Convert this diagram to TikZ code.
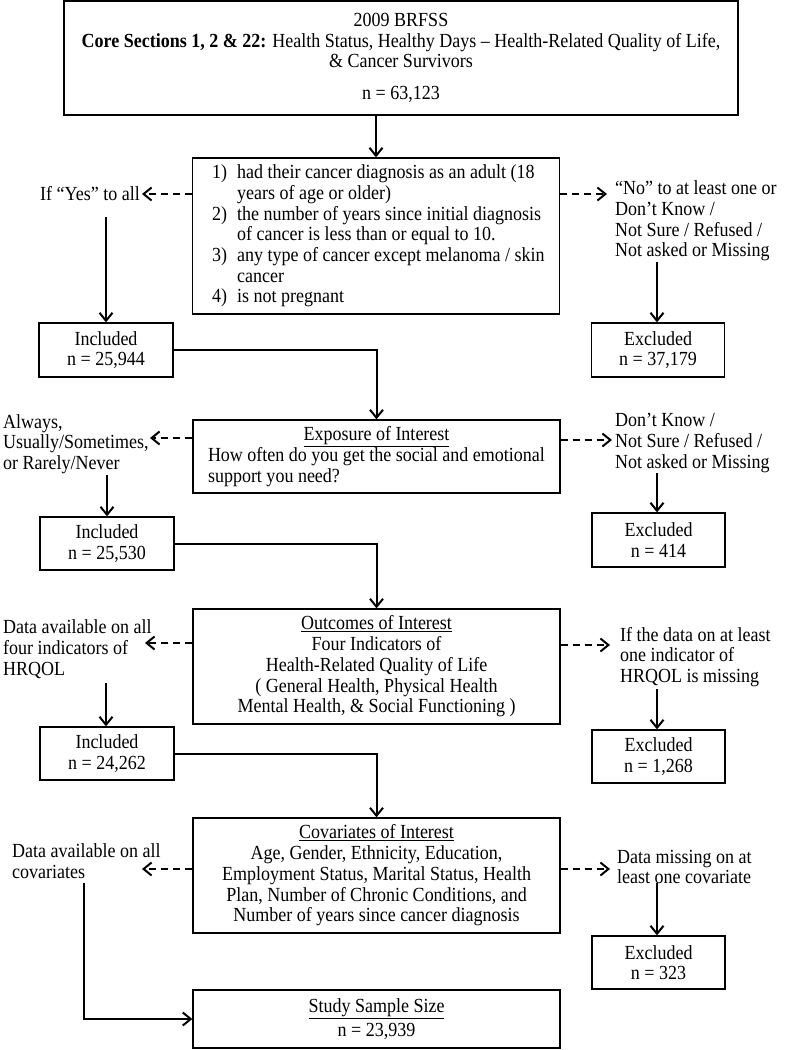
\documentclass[tikz,border=0pt]{standalone}
\usepackage{fontspec}
\setmainfont{Liberation Serif}[FakeStretch=0.9]
\usetikzlibrary{arrows.meta,calc}
\begin{document}
\begin{tikzpicture}[x=1pt,y=-1pt,
  every node/.style={font=\fontsize{20}{20.7}\selectfont},
  box/.style={draw, line width=1.3pt, align=center, inner sep=0pt},
  lbl/.style={align=left, inner sep=0pt},
  arr/.style={line width=2pt, -{Straight Barb[length=8pt,width=13pt,line width=2pt]}},
  darr/.style={arr, dash pattern=on 7pt off 5pt}]
\useasboundingbox (0,0) rectangle (785,1050);

% top box
\node[box, minimum width=674pt, minimum height=114pt] (top) at (401,58)
  {2009 BRFSS\\ \textbf{Core Sections 1, 2 \& 22:} Health Status, Healthy Days – Health-Related Quality of Life,\\ \& Cancer Survivors\\[11pt] n = 63,123};

% criteria
\node[box, minimum width=367pt, minimum height=156pt] (crit) at (376,236) {};
\node[lbl, anchor=west] (critt) at (212,236)
  {\makebox[25pt][l]{1)}had their cancer diagnosis as an adult (18\\
   \hspace*{25pt}years of age or older)\\
   \makebox[25pt][l]{2)}the number of years since initial diagnosis\\
   \hspace*{25pt}of cancer is less than or equal to 10.\\
   \makebox[25pt][l]{3)}any type of cancer except melanoma / skin\\
   \hspace*{25pt}cancer\\
   \makebox[25pt][l]{4)}is not pregnant};
\draw[arr] (crit.north |- top.south) -- (crit.north);

\node[lbl, anchor=east] (yes) at (140,194) {If “Yes” to all};
\coordinate (yesa) at (142,194);
\draw[darr] (crit.west |- yesa) -- (yesa);
\node[lbl, anchor=west] (no) at (615,221)
  {“No” to at least one or\\ Don’t Know /\\ Not Sure / Refused /\\ Not asked or Missing};
\coordinate (noa) at (607,194);
\draw[darr] (crit.east |- noa) -- (noa);

\node[box, minimum width=134pt, minimum height=54pt] (inc1) at (106,350) {Included\\ n = 25,944};
\node[box, minimum width=133pt, minimum height=54pt] (exc1) at (658,350) {Excluded\\ n = 37,179};
\coordinate (yess) at (106,217);
\draw[arr] (yess) -- (yess |- inc1.north);
\coordinate (nos) at (657,262);
\draw[arr] (nos) -- (nos |- exc1.north);

% exposure
\node[box, minimum width=367pt, minimum height=73pt, align=left] (expo) at (376.5,456.5)
  {\makebox[337pt]{\underline{Exposure of Interest}}\\ How often do you get the social and emotional\\ support you need?};
\draw[arr] (inc1.east) -| (expo.north);

\node[lbl, anchor=west] (alw) at (3,444) {Always,\\ Usually/Sometimes,\\ or Rarely/Never};
\coordinate (alwa) at (150,438);
\draw[darr] (expo.west |- alwa) -- (alwa);
\node[lbl, anchor=west] (dk) at (615,443) {Don’t Know /\\ Not Sure / Refused /\\ Not asked or Missing};
\coordinate (dka) at (612,440);
\draw[darr] (expo.east |- dka) -- (dka);

\node[box, minimum width=134pt, minimum height=53pt] (inc2) at (107,543.5) {Included\\ n = 25,530};
\node[box, minimum width=133pt, minimum height=54pt] (exc2) at (658.5,540) {Excluded\\ n = 414};
\coordinate (alws) at (107,475);
\draw[arr] (alws) -- (alws |- inc2.north);
\coordinate (dks) at (657,473);
\draw[arr] (dks) -- (dks |- exc2.north);

% outcomes
\node[box, minimum width=367pt, minimum height=115pt] (outc) at (376.5,666.5)
  {\underline{Outcomes of Interest}\\ Four Indicators of\\ Health-Related Quality of Life\\ ( General Health, Physical Health\\ Mental Health, \& Social Functioning )};
\draw[arr] (inc2.east) -| (outc.north);

\node[lbl, anchor=west] (dav) at (3,649) {Data available on all\\ four indicators of\\ HRQOL};
\coordinate (dava) at (145,643);
\draw[darr] (outc.west |- dava) -- (dava);
\node[lbl, anchor=west] (ifd) at (620,657) {If the data on at least\\ one indicator of\\ HRQOL is missing};
\coordinate (ifda) at (610,645);
\draw[darr] (outc.east |- ifda) -- (ifda);

\node[box, minimum width=134pt, minimum height=53pt] (inc3) at (107,753.5) {Included\\ n = 24,262};
\node[box, minimum width=133pt, minimum height=53pt] (exc3) at (658.5,756.5) {Excluded\\ n = 1,268};
\coordinate (davs) at (106,683);
\draw[arr] (davs) -- (davs |- inc3.north);
\coordinate (ifds) at (657,689);
\draw[arr] (ifds) -- (ifds |- exc3.north);

% covariates
\node[box, minimum width=367pt, minimum height=115pt] (cov) at (376.5,875.5)
  {\underline{Covariates of Interest}\\ Age, Gender, Ethnicity, Education,\\ Employment Status, Marital Status, Health\\ Plan, Number of Chronic Conditions, and\\ Number of years since cancer diagnosis};
\draw[arr] (inc3.east) -| (cov.north);

\node[lbl, anchor=west] (dac) at (12,861) {Data available on all\\ covariates};
\coordinate (daca) at (142,869);
\draw[darr] (cov.west |- daca) -- (daca);
\node[lbl, anchor=west] (dm) at (617,867) {Data missing on at\\ least one covariate};
\coordinate (dma) at (610,869);
\draw[darr] (cov.east |- dma) -- (dma);

\node[box, minimum width=133pt, minimum height=53pt] (exc4) at (658.5,962.5) {Excluded\\ n = 323};
\coordinate (dms) at (657,883);
\draw[arr] (dms) -- (dms |- exc4.north);

\node[box, minimum width=367pt, minimum height=58pt] (study) at (376.5,1019)
  {\underline{Study Sample Size}\\[4pt] n = 23,939};
\coordinate (dacs) at (84,883);
\draw[arr] (dacs) |- (study.west);
\end{tikzpicture}
\end{document}
